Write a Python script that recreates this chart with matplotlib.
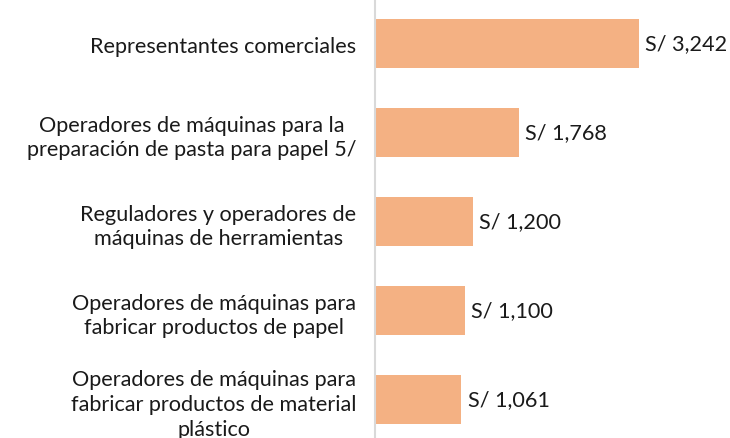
import matplotlib.pyplot as plt

# data
categories = [
    "Representantes comerciales",
    "Operadores de máquinas para la\npreparación de pasta para papel 5/",
    "Reguladores y operadores de\nmáquinas de herramientas",
    "Operadores de máquinas para\nfabricar productos de papel",
    "Operadores de máquinas para\nfabricar productos de material\nplástico",
]
salaries = [3242, 1768, 1200, 1100, 1061]

plt.rcParams['font.family'] = ['Lato', 'DejaVu Sans']

fig = plt.figure(figsize=(7.30, 4.39), dpi=100)
ax = fig.add_axes([0.5137, -0.0137, 0.4863, 1.0137])

pos = list(range(len(categories)))
ax.barh(pos, salaries, height=0.54, color='#F4B183')

for y, v in zip(pos, salaries):
    ax.text(v + 75, y, f"S/ {v:,}", va='center', ha='left', fontsize=15.6, color='#1a1a1a')

ax.set_ylim(len(categories) - 0.5, -0.5)
ax.set_xlim(0, 4357)

ax.set_yticks(pos)
ax.set_yticklabels(categories, fontsize=15.6, color='#1a1a1a', multialignment='center')
for lbl in ax.get_yticklabels():
    lbl.set_linespacing(1.3)
ax.tick_params(axis='y', length=0, pad=13.5)
ax.set_xticks([])

for s in ['top', 'right', 'bottom']:
    ax.spines[s].set_visible(False)
ax.spines['left'].set_color('#D9D9D9')
ax.spines['left'].set_linewidth(1.5)

fig.savefig("out.png", dpi=100)
